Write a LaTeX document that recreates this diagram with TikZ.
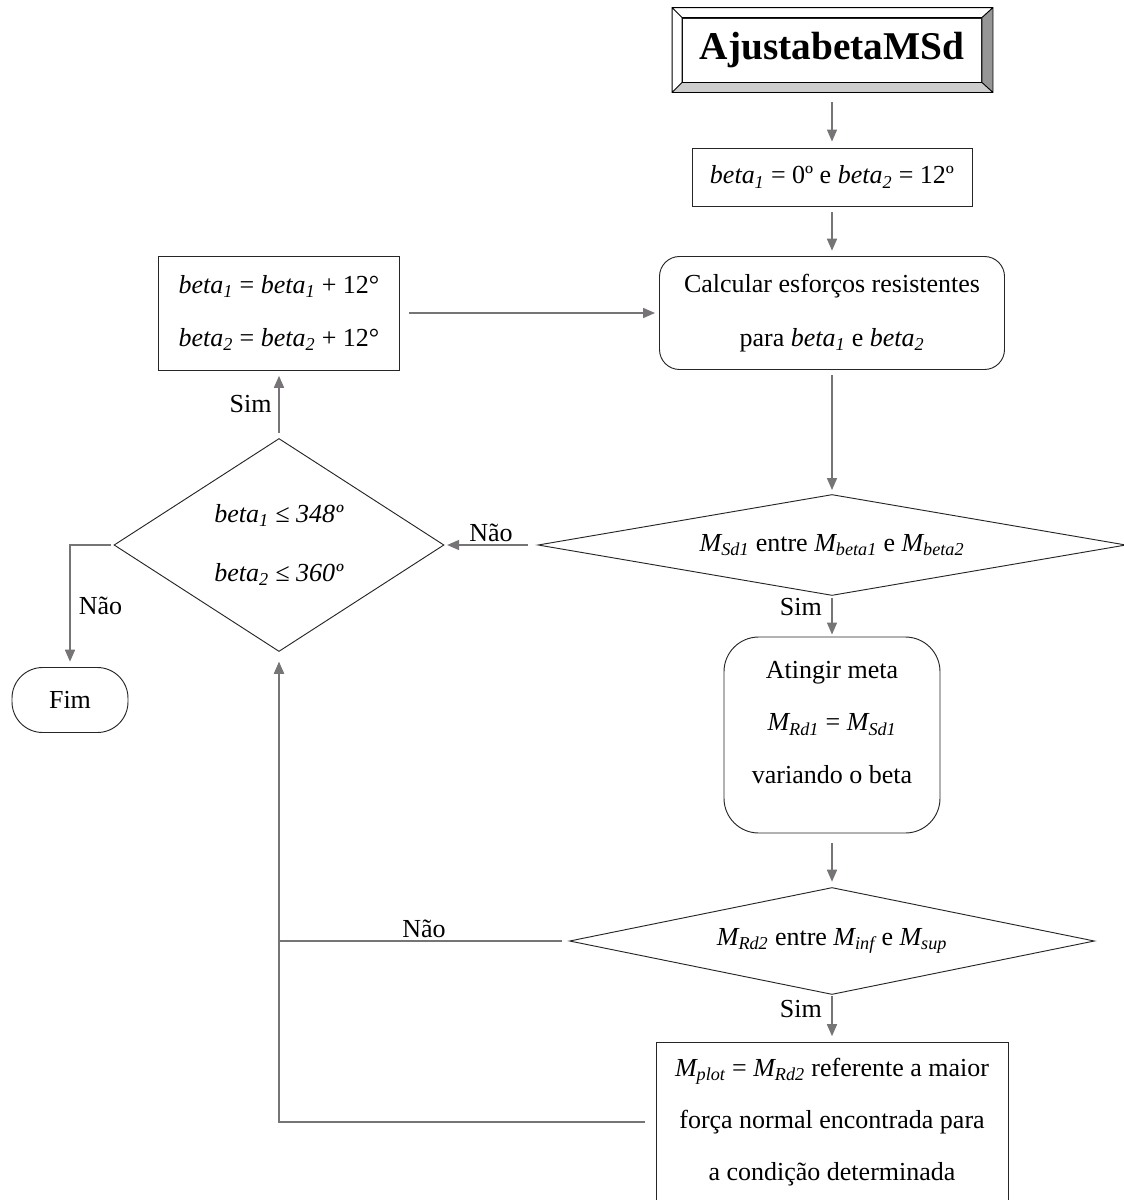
\documentclass[tikz,border=0pt]{standalone}
\usepackage{fontspec}
\setmainfont{Liberation Serif}
\usepackage{tikz}
\usetikzlibrary{arrows.meta,shapes.geometric,calc}
\definecolor{linkgray}{RGB}{118,116,118}
\definecolor{bevelgray}{RGB}{150,150,150}
\definecolor{bevellight}{RGB}{205,205,205}
\newcommand{\ib}[1]{\textsubscript{\itshape #1}}

\begin{document}
\begin{tikzpicture}[x=0.75pt,y=-0.75pt,>={Triangle[length=9pt,width=7.5pt]},
        font=\fontsize{19.5}{40}\selectfont]
        \tikzstyle{box}=[draw=black!85,line width=0.7pt,align=center,inner sep=0pt]
        \tikzstyle{decision}=[box,diamond]
        \tikzstyle{link}=[draw=linkgray,line width=1.2pt,->]
        \useasboundingbox (0,0) rectangle (1124,1200);
        % right column
        \node[box,fill=white,minimum width=224.25pt,minimum height=48pt,
            font=\fontsize{29.5}{34}\selectfont\bfseries] (ttl) at (832,50) {AjustabetaMSd};
        \node[box,minimum width=210pt,minimum height=43.5pt] (b2) at (832,177)
            {\textit{beta\ib{1}} = 0º e \textit{beta\ib{2}} = 12º};
        \node[box,rounded corners=15pt,minimum width=258.75pt,minimum height=84.75pt] (calc) [below of=b2,node distance=102pt]
            {Calcular esforços resistentes\\para \textit{beta\ib{1}} e \textit{beta\ib{2}}};
        \node[decision,aspect=5.8,minimum width=441pt,minimum height=75.75pt] (d1) [below of=calc,node distance=174pt]
            {\textit{M\ib{Sd1}} entre \textit{M\ib{beta1}} e \textit{M\ib{beta2}}};
        \node[box,rounded corners=26pt,minimum width=162pt,minimum height=147pt,text depth=19pt,
            font=\fontsize{19.5}{39.5}\selectfont] (meta) [below of=d1,node distance=142.5pt]
            {Atingir meta\\\textit{M\ib{Rd1}} = \textit{M\ib{Sd1}}\\variando o beta};
        \node[decision,aspect=4.9,minimum width=393.75pt,minimum height=80.25pt] (d3) [below of=meta,node distance=154.5pt]
            {\textit{M\ib{Rd2}} entre \textit{M\ib{inf}} e \textit{M\ib{sup}}};
        \node[box,minimum width=264pt,minimum height=120pt,
            font=\fontsize{19.5}{39}\selectfont] (plot) [below of=d3,node distance=135.75pt]
            {\textit{M\ib{plot}} = \textit{M\ib{Rd2}} referente a maior\\força normal encontrada para\\a condição determinada};
        % left column
        \node[box,minimum width=180.75pt,minimum height=85.5pt] (incr) [left of=calc,node distance=414.75pt]
            {\textit{beta\ib{1}} = \textit{beta\ib{1}} + 12°\\\textit{beta\ib{2}} = \textit{beta\ib{2}} + 12°};
        \node[decision,aspect=1.55,minimum width=247.5pt,minimum height=159.75pt,
            font=\fontsize{19.5}{44}\selectfont] (d2) [below of=incr,node distance=174pt]
            {\textit{beta\ib{1} ≤ 348º}\\\textit{beta\ib{2} ≤ 360º}};
        \node[box,rounded corners=23pt,minimum width=87pt,minimum height=48.75pt] (fim) at (70,700) {Fim};
        % bevel of the title
        \coordinate (oNW) at ($(ttl.north west)+(-10,-10)$);
        \coordinate (oNE) at ($(ttl.north east)+(11,-10)$);
        \coordinate (oSE) at ($(ttl.south east)+(11,10)$);
        \coordinate (oSW) at ($(ttl.south west)+(-10,10)$);
        \fill[bevelgray] (ttl.north east) -- (oNE) -- (oSE) -- (ttl.south east) -- cycle;
        \fill[bevellight] (ttl.south west) -- (ttl.south east) -- (oSE) -- (oSW) -- cycle;
        \draw[line width=0.7pt] (oNW) rectangle (oSE)
            (oNW) -- (ttl.north west) (oNE) -- (ttl.north east)
            (oSE) -- (ttl.south east) (oSW) -- (ttl.south west)
            (ttl.north west) rectangle (ttl.south east);
    \path
        (ttl) edge[link,shorten <=15pt,shorten >=4.5pt] (b2)
        (b2) edge[link,shorten <=4.5pt,shorten >=4pt] (calc)
        (calc) edge[link,shorten <=4pt,shorten >=3pt] (d1)
        (d1.west) edge[link,shorten <=7pt,shorten >=2pt] node[above,inner sep=2pt] {Não} (d2.east)
        (d2.north) edge[link,shorten <=4pt,shorten >=4pt] node[left,inner sep=5pt] {Sim} (incr.south)
        (incr.east) edge[link,shorten <=7pt,shorten >=3pt] (calc.west)
        (d1.south) edge[link,shorten <=1.5pt,shorten >=1.5pt] node[pos=0.28,left,inner sep=7pt] {Sim} (meta.north)
        (meta) edge[link,shorten <=7pt,shorten >=4pt] (d3)
        (d3.south) edge[link,shorten <=1pt,shorten >=4pt] node[pos=0.3,left,inner sep=7pt] {Sim} (plot.north);
        \draw[link,shorten <=2pt,shorten >=4pt] (d2.west) -| node[pos=0.75,right,inner sep=6pt] {Não} (fim.north);
        \draw[link,shorten <=5pt,shorten >=7.5pt] (d3.west) -| node[pos=0.25,above,inner sep=2pt] {Não} (d2.south);
        \draw[link,shorten <=8pt,shorten >=7.5pt] (plot.west) -| (d2.south);
\end{tikzpicture}
\end{document}
